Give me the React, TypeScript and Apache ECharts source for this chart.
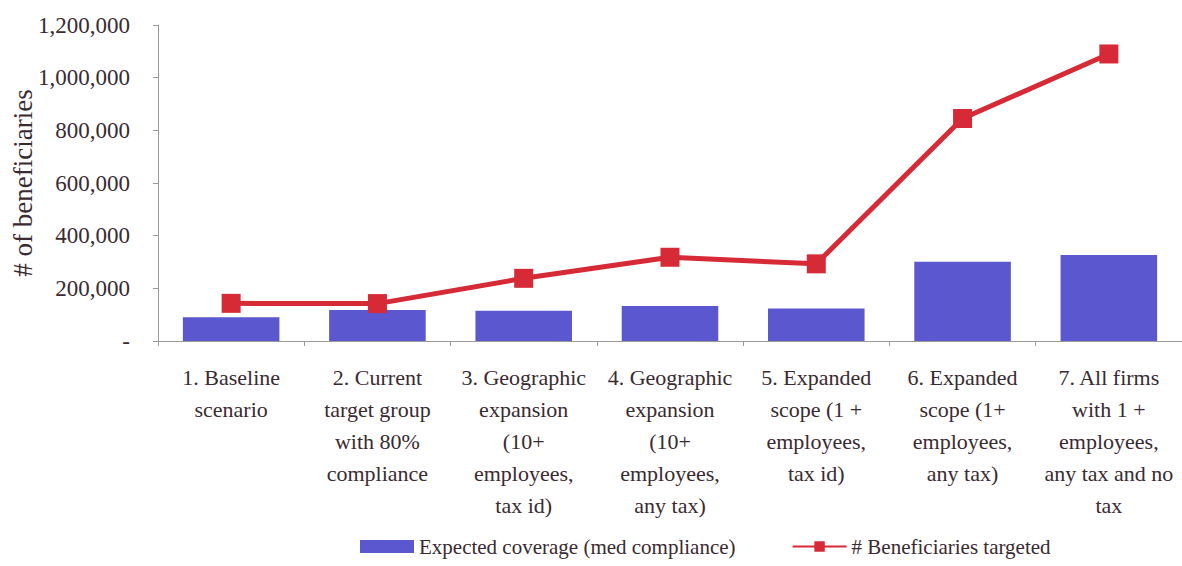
import React, { useEffect, useRef } from "react";
import * as echarts from "echarts";

const categories = [
  "1. Baseline\nscenario",
  "2. Current\ntarget group\nwith 80%\ncompliance",
  "3. Geographic\nexpansion\n(10+\nemployees,\ntax id)",
  "4. Geographic\nexpansion\n(10+\nemployees,\nany tax)",
  "5. Expanded\nscope (1 +\nemployees,\ntax id)",
  "6. Expanded\nscope (1+\nemployees,\nany tax)",
  "7. All firms\nwith 1 +\nemployees,\nany tax and no\ntax",
];
const coverage = [90000, 118000, 115000, 133000, 123000, 301000, 327000];
const targeted = [143000, 142000, 238000, 318000, 293000, 845000, 1090000];

const FONT = "Liberation Serif";
const TEXT = "#3a2a32";

export default function App() {
  const ref = useRef<HTMLDivElement>(null);
  useEffect(() => {
    if (!ref.current) return;
    const chart = echarts.init(ref.current, undefined, { renderer: "svg" });
    chart.setOption({
      animation: false,
      backgroundColor: "#ffffff",
      textStyle: { fontFamily: FONT, color: TEXT },
      grid: {
        left: 158,
        right: 0,
        top: 25,
        bottom: 225,
        containLabel: false,
        outerBoundsMode: "none",
      },
      legend: {
        left: 355,
        bottom: 4,
        itemGap: 56,
        itemWidth: 54,
        itemHeight: 13,
        textStyle: { fontFamily: FONT, fontSize: 21, color: TEXT },
        data: [
          { name: "Expected coverage (med compliance)", icon: "rect" },
          { name: "# Beneficiaries targeted" },
        ],
      },
      xAxis: {
        type: "category",
        data: categories,
        boundaryGap: true,
        axisLine: { lineStyle: { color: "#9a9a9a", width: 1 } },
        axisTick: { show: true, length: 5, lineStyle: { color: "#9a9a9a" } },
        axisLabel: {
          interval: 0,
          margin: 21,
          fontFamily: FONT,
          fontSize: 22,
          lineHeight: 31.8,
          color: TEXT,
        },
      },
      yAxis: {
        type: "value",
        min: 0,
        max: 1200000,
        interval: 200000,
        name: "# of beneficiaries",
        nameLocation: "middle",
        nameGap: 122,
        nameMoveOverlap: false,
        nameTextStyle: { fontFamily: FONT, fontSize: 27, color: TEXT },
        axisLine: { show: true, lineStyle: { color: "#9a9a9a", width: 1 } },
        axisTick: { show: true, length: 5, lineStyle: { color: "#9a9a9a" } },
        splitLine: { show: false },
        axisLabel: {
          margin: 28,
          fontFamily: FONT,
          fontSize: 23,
          color: TEXT,
          formatter: (v: number) => (v === 0 ? "-" : v.toLocaleString("en-US")),
        },
      },
      series: [
        {
          name: "Expected coverage (med compliance)",
          type: "bar",
          data: coverage,
          barWidth: "66%",
          itemStyle: { color: "#5b57cf" },
        },
        {
          name: "# Beneficiaries targeted",
          type: "line",
          data: targeted,
          symbol: "rect",
          symbolSize: 19,
          lineStyle: { color: "#d62a36", width: 5 },
          itemStyle: { color: "#d62a36" },
        },
      ],
    });
    return () => chart.dispose();
  }, []);
  return (
    <div
      ref={ref}
      style={{ position: "fixed", left: 0, top: 0, width: 1182, height: 566 }}
    />
  );
}
